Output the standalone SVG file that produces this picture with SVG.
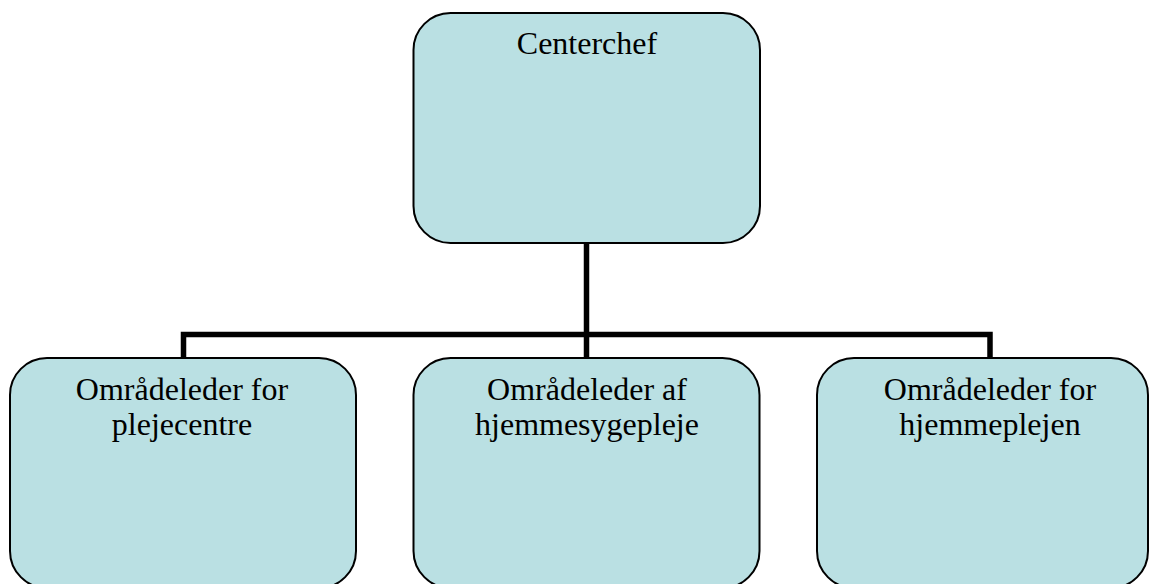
<svg xmlns="http://www.w3.org/2000/svg" width="1150" height="584" viewBox="0 0 1150 584">
<style>
.box{fill:#BAE0E3;stroke:#000;stroke-width:2}
.lbl{font-family:"Liberation Serif","Times New Roman",serif;font-size:32px;fill:#000;text-anchor:middle}
.conn{fill:none;stroke:#000;stroke-width:5.5;stroke-linecap:butt;stroke-linejoin:miter}
</style>
<rect width="1150" height="584" fill="#fff"/>
<g id="connectors">
<path class="conn" d="M586.5,243 V358"/>
<path class="conn" d="M183.5,358 V334.5 H990 V358"/>
</g>
<g id="node-centerchef">
<rect class="box" x="413.5" y="13" width="346.5" height="230" rx="37" ry="37"/>
<text class="lbl" x="587" y="54">Centerchef</text>
</g>
<g id="node-plejecentre">
<rect class="box" x="10" y="358" width="346" height="230" rx="37" ry="37"/>
<text class="lbl" x="182" y="400">Områdeleder for</text>
<text class="lbl" x="182" y="435">plejecentre</text>
</g>
<g id="node-hjemmesygepleje">
<rect class="box" x="413.5" y="358" width="346" height="230" rx="37" ry="37"/>
<text class="lbl" x="587" y="400">Områdeleder af</text>
<text class="lbl" x="587" y="435">hjemmesygepleje</text>
</g>
<g id="node-hjemmeplejen">
<rect class="box" x="817" y="358" width="331" height="230" rx="37" ry="37"/>
<text class="lbl" x="990" y="400">Områdeleder for</text>
<text class="lbl" x="990" y="435">hjemmeplejen</text>
</g>
</svg>
